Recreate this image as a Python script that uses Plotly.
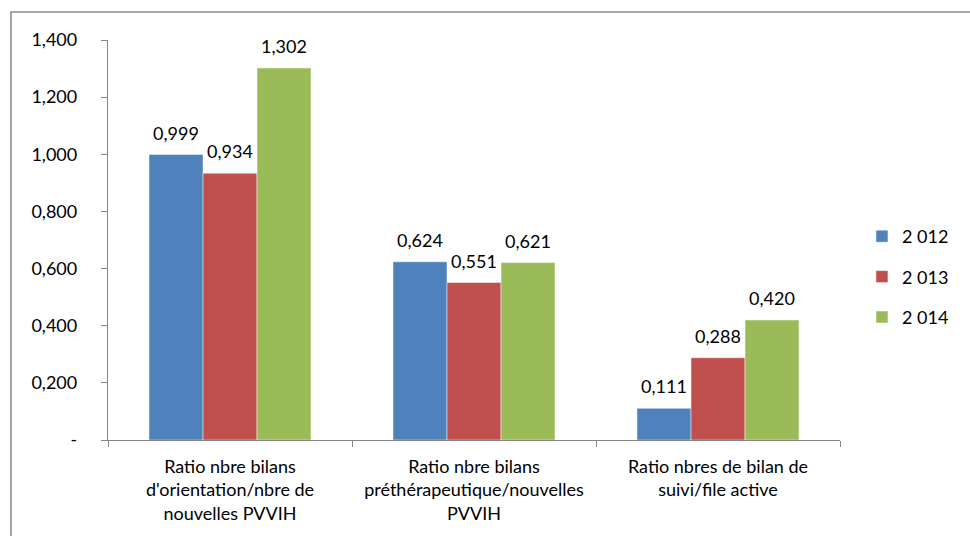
import plotly.graph_objects as go

# Ratios per indicator, one series per year
categories = [
    "Ratio nbre bilans<br>d'orientation/nbre de<br>nouvelles PVVIH",
    "Ratio nbre bilans<br>préthérapeutique/nouvelles<br>PVVIH",
    "Ratio nbres de bilan de<br>suivi/file active",
]
years = ["2 012", "2 013", "2 014"]
values_2012 = [0.999, 0.624, 0.111]
values_2013 = [0.934, 0.551, 0.288]
values_2014 = [1.302, 0.621, 0.420]
series_values = [values_2012, values_2013, values_2014]
colors = ["#4F81BD", "#C0504D", "#9BBB59"]
y_ticks = [0, 0.2, 0.4, 0.6, 0.8, 1.0, 1.2, 1.4]
y_tick_labels = ["-", "0,200", "0,400", "0,600", "0,800", "1,000", "1,200", "1,400"]

FONT = "Lato"
FS = 18
W, H = 970, 536
ML, MR, MT, MB = 108, 130, 40, 96


def fr(v):
    return f"{v:.3f}".replace(".", ",")


fig = go.Figure()
for name, vals, col in zip(years, series_values, colors):
    fig.add_trace(go.Bar(
        x=categories, y=vals, name=name, legendgroup=name,
        marker=dict(color=col, line=dict(color="rgba(255,255,255,0.6)", width=0.8)),
        hoverinfo="skip",
    ))

# value labels above each bar
bar_w = 54
offsets = [-bar_w, 0, bar_w]
annotations = []
for vals, off in zip(series_values, offsets):
    for cat, v in zip(categories, vals):
        annotations.append(dict(
            x=cat, y=v, xref="x", yref="y", text=fr(v), showarrow=False,
            xshift=off, yshift=9, yanchor="bottom",
            font=dict(family=FONT, size=FS, color="#000000"),
        ))

pw = W - ML - MR
ph = H - MT - MB
# outer chart frame
x0 = (11 - ML) / pw
y1 = (H - MB - 12) / ph
shapes = [dict(type="rect", xref="paper", yref="paper", x0=x0, x1=1.5, y0=-0.6, y1=y1,
               line=dict(color="#8C8C8C", width=1.6), fillcolor="rgba(0,0,0,0)", layer="below")]

fig.update_layout(
    width=W, height=H,
    margin=dict(l=ML, r=MR, t=MT, b=MB),
    paper_bgcolor="white", plot_bgcolor="white",
    barmode="group", bargap=0.336, bargroupgap=0,
    font=dict(family=FONT, size=FS, color="#000000"),
    annotations=annotations, shapes=shapes,
    legend=dict(x=1.03, y=0.4075, xanchor="left", yanchor="middle",
                font=dict(family=FONT, size=FS), tracegroupgap=14,
                itemwidth=30, bgcolor="rgba(0,0,0,0)"),
    xaxis=dict(showline=True, linecolor="#868686", linewidth=1.3,
               ticks="outside", tickson="boundaries", ticklen=6, tickcolor="#868686",
               tickwidth=1.3, showgrid=False, tickangle=0, ticklabelstandoff=10,
               tickfont=dict(family=FONT, size=FS)),
    yaxis=dict(range=[0, 1.4], tickvals=y_ticks, ticktext=y_tick_labels,
               showline=True, linecolor="#868686", linewidth=1.3,
               ticks="outside", ticklen=6, tickcolor="#868686", tickwidth=1.3,
               showgrid=False, zeroline=False, ticklabelstandoff=20,
               tickfont=dict(family=FONT, size=FS)),
)

fig.write_html("out.html")
